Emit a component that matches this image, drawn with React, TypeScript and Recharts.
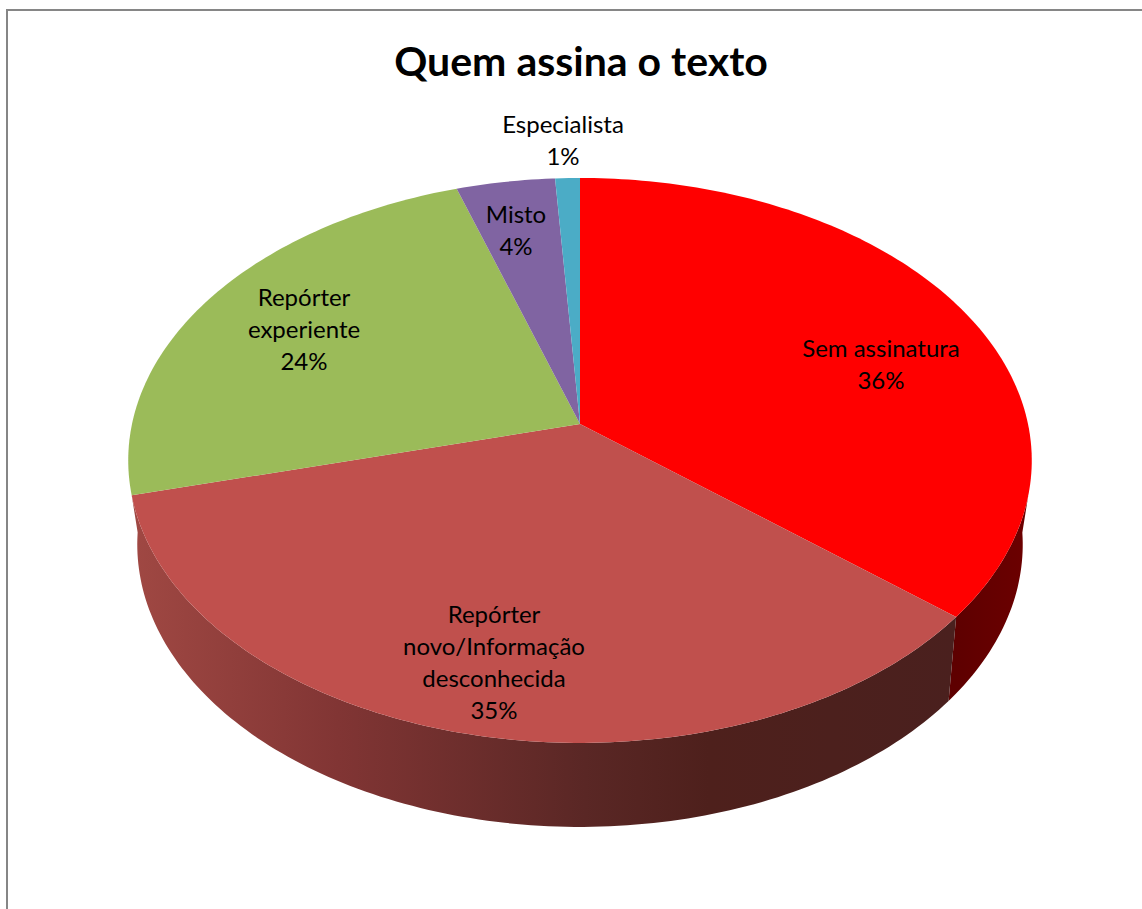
import React from 'react';
import { PieChart, Pie } from 'recharts';

const title = 'Quem assina o texto';
const categories = [
  'Sem assinatura',
  'Repórter\nnovo/Informação\ndesconhecida',
  'Repórter\nexperiente',
  'Misto',
  'Especialista',
];
const shares = [36, 35, 24, 4, 1];

const faceColors = ['#ff0000', '#c0504d', '#9bbb59', '#8064a2', '#4bacc6'];
const wallStops: [number, string][][] = [
  [[0, '#5e0000'], [1, '#6c0000']],
  [[0, '#a04843'], [0.25, '#813534'], [0.55, '#5a2725'], [0.7, '#4e201c'], [1, '#4a201e']],
];

// Label block centres, measured from the pie centre
const labelOffsets = [
  [301, -61],
  [-86, 237],
  [-276, -96],
  [-64, -195],
  [-17, -285],
];

const rows = categories.map((name, i) => ({ name, value: shares[i] }));

const FONT = 'Lato, "Noto Sans", sans-serif';
const TILT = 0.62;
const PERSPECTIVE = -0.129;
const DEPTH = 84;
const BASE_SHRINK = 0.98;
const LINE_HEIGHT = 32;

// Perspective view of a point on the pie's rim; `clock` is degrees clockwise from 12 o'clock.
const rim = (clock: number, cx: number, cy: number, r: number) => {
  const rad = (clock * Math.PI) / 180;
  const x = Math.sin(rad);
  const y = -Math.cos(rad);
  const w = 1 + PERSPECTIVE * y;
  return { x: cx + (r * x) / w, y: cy + (r * TILT * y) / w };
};

const baseRim = (clock: number, cx: number, cy: number, r: number) => {
  const p = rim(clock, cx, cy, r);
  return { x: cx + (p.x - cx) * BASE_SHRINK, y: p.y + DEPTH };
};

const sweep = (from: number, to: number) => {
  const out: number[] = [];
  for (let a = from; a < to; a += 1) out.push(a);
  out.push(to);
  return out;
};

const toPath = (pts: { x: number; y: number }[]) =>
  pts.map((p, i) => `${i ? 'L' : 'M'}${p.x.toFixed(2)} ${p.y.toFixed(2)}`).join('') + 'Z';

const WALL_TOP = [104.4, 255.6];
const WALL_BASE = [95, 265];

const Slice = (props: any) => {
  const { cx, cy, outerRadius: r, startAngle, endAngle, index, fill } = props;
  const from = 90 - startAngle;
  const to = 90 - endAngle;
  const topFrom = Math.max(from, WALL_TOP[0]);
  const topTo = Math.min(to, WALL_TOP[1]);
  const baseFrom = from <= WALL_TOP[0] ? WALL_BASE[0] : from;
  const baseTo = to >= WALL_TOP[1] ? WALL_BASE[1] : to;
  const hasWall = topFrom < topTo;
  const stops = wallStops[index];
  const gradientId = `wall-${index}`;
  return (
    <g>
      {hasWall && stops && (
        <>
          <defs>
            <linearGradient
              id={gradientId}
              gradientUnits="userSpaceOnUse"
              x1={rim(index === 0 ? 129.6 : 255.6, cx, cy, r).x}
              x2={rim(index === 0 ? 104.4 : 129.6, cx, cy, r).x}
              y1={0}
              y2={0}
            >
              {stops.map(([o, c]) => (
                <stop key={o} offset={o} stopColor={c} />
              ))}
            </linearGradient>
          </defs>
          <path
            fill={`url(#${gradientId})`}
            d={toPath([
              ...sweep(topFrom, topTo).map((a) => rim(a, cx, cy, r)),
              ...sweep(baseFrom, baseTo).reverse().map((a) => baseRim(a, cx, cy, r)),
            ])}
          />
        </>
      )}
      <path
        fill={fill}
        d={toPath([{ x: cx, y: cy }, ...sweep(from, to).map((a) => rim(a, cx, cy, r))])}
      />
    </g>
  );
};

const SliceLabel = (props: any) => {
  const { cx, cy, index } = props;
  const lines = [...categories[index].split('\n'), `${shares[index]}%`];
  const [dx, dy] = labelOffsets[index];
  const x = cx + dx;
  const top = cy + dy - ((lines.length - 1) * LINE_HEIGHT) / 2;
  return (
    <text
      textAnchor="middle"
      dominantBaseline="central"
      fontFamily={FONT}
      fontSize={24}
      fill="#000"
    >
      {lines.map((line, i) => (
        <tspan key={i} x={x} y={top + i * LINE_HEIGHT}>
          {line}
        </tspan>
      ))}
    </text>
  );
};

export default function App() {
  return (
    <div
      style={{
        position: 'absolute',
        left: 0,
        top: 0,
        width: 1142,
        height: 909,
        overflow: 'hidden',
        background: '#fff',
      }}
    >
      <div
        style={{
          position: 'absolute',
          left: 6,
          top: 9,
          width: 1136,
          height: 900,
          boxSizing: 'border-box',
          borderLeft: '2px solid #868686',
          borderTop: '2px solid #868686',
        }}
      />
      <div
        style={{
          position: 'absolute',
          left: 0,
          width: 1162,
          top: 36,
          textAlign: 'center',
          fontFamily: FONT,
          fontWeight: 700,
          fontSize: 41,
          lineHeight: '50px',
          color: '#000',
        }}
      >
        {title}
      </div>
      <div style={{ position: 'absolute', left: 0, top: 0 }}>
        <PieChart width={1142} height={909} margin={{ top: 0, right: 0, bottom: 0, left: 0 }}>
          <Pie
            data={rows}
            dataKey="value"
            nameKey="name"
            cx={580}
            cy={424}
            innerRadius={0}
            outerRadius={448}
            startAngle={90}
            endAngle={-270}
            paddingAngle={0}
            stroke="none"
            shape={(p: any) => <Slice {...p} fill={faceColors[p.index]} />}
            label={SliceLabel}
            labelLine={false}
            isAnimationActive={false}
          />
        </PieChart>
      </div>
    </div>
  );
}
